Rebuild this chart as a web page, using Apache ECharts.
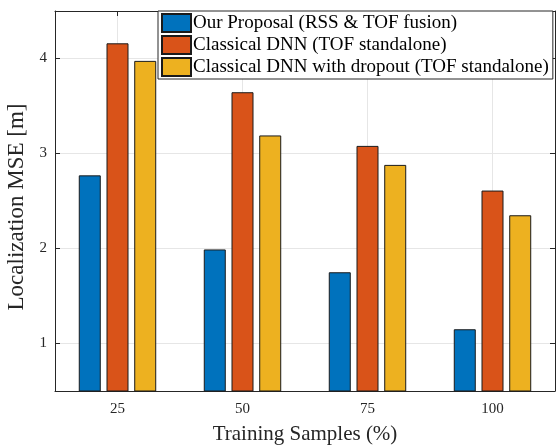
<!DOCTYPE html>
<html>
<head>
<meta charset="utf-8">
<script src="https://cdn.jsdelivr.net/npm/echarts@6/dist/echarts.min.js"></script>
<style>
  html, body { margin: 0; padding: 0; background: #fff; }
  #chart { width: 558px; height: 446px; }
</style>
</head>
<body>
<div id="chart"></div>
<script>
// Training-set size (percentage of samples) on the x axis
const categories = ['25', '50', '75', '100'];

// Localization MSE in metres for each method
const seriesNames = [
  'Our Proposal (RSS & TOF fusion)',
  'Classical DNN (TOF standalone)',
  'Classical DNN with dropout (TOF standalone)'
];
const proposalMSE = [2.77, 1.99, 1.75, 1.15];
const dnnMSE = [4.16, 3.645, 3.08, 2.61];
const dropoutMSE = [3.975, 3.19, 2.88, 2.35];

const yTicks = [1, 2, 3, 4];
const colors = ['#0072BD', '#D95319', '#EDB120'];

const FONT = '"Liberation Serif", "Times New Roman", serif';
const AXIS_COLOR = '#262626';
const GRID_COLOR = '#e6e6e6';

const chart = echarts.init(document.getElementById('chart'), null, { renderer: 'canvas' });

function barSeries(name, data, color) {
  return {
    name: name,
    type: 'bar',
    data: data,
    barWidth: 22,
    barGap: '26%',
    xAxisIndex: 0,
    yAxisIndex: 0,
    itemStyle: { color: color, borderColor: '#1a1a1a', borderWidth: 1 },
    emphasis: { disabled: true },
    z: 3
  };
}

// positions of the category centres on a helper value axis spanning [-0.5, 3.5]
const centreValues = categories.map((c, i) => i);

const option = {
  animation: false,
  backgroundColor: '#fff',
  textStyle: { fontFamily: FONT },
  grid: { left: 55, right: 3, top: 11, bottom: 55, containLabel: false, outerBoundsMode: 'none' },
  legend: {
    orient: 'vertical',
    left: 158,
    top: 11,
    data: seriesNames,
    icon: 'rect',
    itemWidth: 29,
    itemHeight: 18,
    itemGap: 2,
    padding: [2, 4, 2, 3],
    backgroundColor: '#fff',
    borderColor: AXIS_COLOR,
    borderWidth: 1,
    borderRadius: 0,
    textStyle: { fontFamily: FONT, fontSize: 19, color: '#000', padding: [0, 0, 0, -3] },
    z: 10
  },
  xAxis: [
    {
      type: 'category',
      data: categories,
      position: 'bottom',
      name: 'Training Samples (%)',
      nameLocation: 'middle',
      nameGap: 33,
      nameTextStyle: { fontFamily: FONT, fontSize: 21, color: AXIS_COLOR },
      axisLine: { show: true, onZero: false, lineStyle: { color: AXIS_COLOR, width: 1 } },
      axisTick: { show: true, inside: true, alignWithLabel: true, length: 5, lineStyle: { color: AXIS_COLOR } },
      axisLabel: { fontFamily: FONT, fontSize: 15, color: AXIS_COLOR, margin: 11 },
      splitLine: { show: false }
    },
    {
      type: 'category',
      data: categories,
      position: 'top',
      axisLine: { show: true, onZero: false, lineStyle: { color: AXIS_COLOR, width: 1 } },
      axisTick: { show: true, inside: true, alignWithLabel: true, length: 5, lineStyle: { color: AXIS_COLOR } },
      axisLabel: { show: false },
      splitLine: { show: false }
    },
    {
      // helper axis that only draws the vertical grid lines through category centres
      type: 'value',
      min: -0.5,
      max: 3.5,
      position: 'bottom',
      show: true,
      axisLine: { show: false, onZero: false },
      axisTick: { show: false, customValues: centreValues },
      axisLabel: { show: false, customValues: centreValues },
      splitLine: { show: true, lineStyle: { color: GRID_COLOR, width: 1 } },
      z: 0
    }
  ],
  yAxis: [
    {
      type: 'value',
      min: 0.5,
      max: 4.5,
      position: 'left',
      name: 'Localization MSE [m]',
      nameLocation: 'middle',
      nameGap: 15,
      nameTextStyle: { fontFamily: FONT, fontSize: 23, color: AXIS_COLOR, padding: [0, 12, 0, 0] },
      axisLine: { show: true, onZero: false, lineStyle: { color: AXIS_COLOR, width: 1 } },
      axisTick: { show: true, inside: true, length: 5, customValues: yTicks, lineStyle: { color: AXIS_COLOR } },
      axisLabel: { fontFamily: FONT, fontSize: 15, color: AXIS_COLOR, margin: 8, customValues: yTicks },
      splitLine: { show: true, lineStyle: { color: GRID_COLOR, width: 1 } }
    },
    {
      type: 'value',
      min: 0.5,
      max: 4.5,
      position: 'right',
      axisLine: { show: true, onZero: false, lineStyle: { color: AXIS_COLOR, width: 1 } },
      axisTick: { show: true, inside: true, length: 5, customValues: yTicks, lineStyle: { color: AXIS_COLOR } },
      axisLabel: { show: false, customValues: yTicks },
      splitLine: { show: false }
    }
  ],
  series: [
    barSeries(seriesNames[0], proposalMSE, colors[0]),
    barSeries(seriesNames[1], dnnMSE, colors[1]),
    barSeries(seriesNames[2], dropoutMSE, colors[2])
  ]
};

chart.setOption(option);
</script>
</body>
</html>
